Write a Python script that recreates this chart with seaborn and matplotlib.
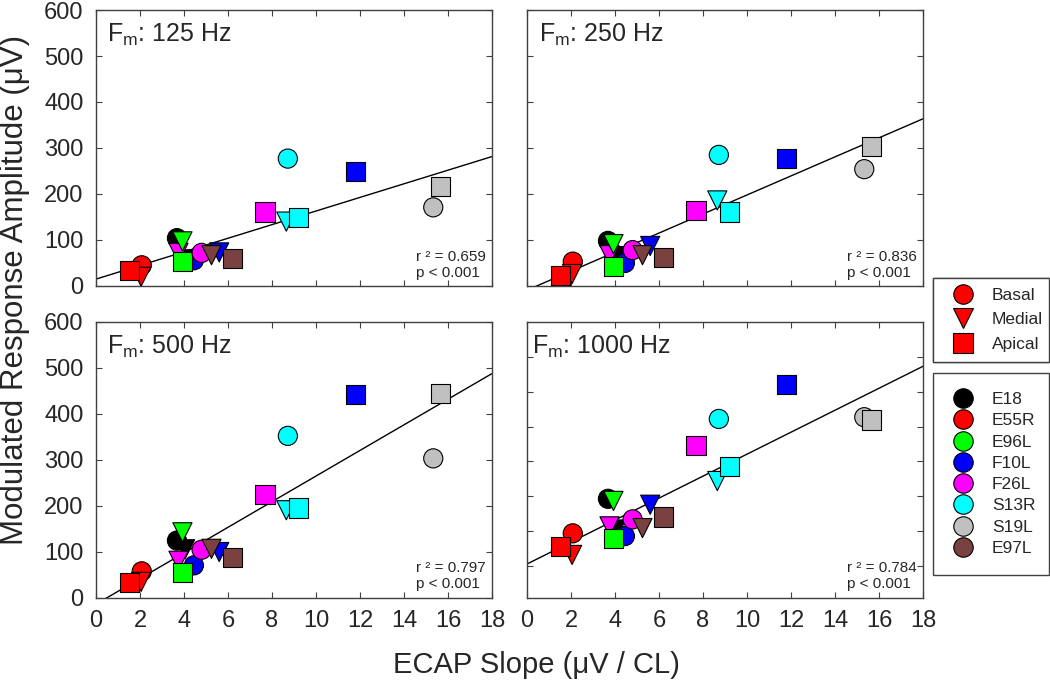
import numpy as np
import pandas as pd
import matplotlib.pyplot as plt
import seaborn as sns
from matplotlib.lines import Line2D

# --- data (row order = drawing order, sets overlaps) ---
subject = ['E18', 'E18', 'E55R', 'E55R', 'E55R', 'F10L', 'F26L', 'E96L', 'E96L', 'F26L',
           'F10L', 'E97L', 'E97L', 'F26L', 'S13R', 'S13R', 'S13R', 'F10L', 'S19L', 'S19L']
site = ['Basal', 'Medial', 'Basal', 'Medial', 'Apical', 'Basal', 'Medial', 'Medial', 'Apical', 'Basal',
        'Medial', 'Medial', 'Apical', 'Apical', 'Basal', 'Medial', 'Apical', 'Apical', 'Basal', 'Apical']
ecap_slope = [3.68, 4.05, 2.08, 2.05, 1.53, 4.45, 3.75, 3.93, 3.92, 4.8,
              5.6, 5.25, 6.2, 7.68, 8.72, 8.65, 9.2, 11.8, 15.33, 15.65]

amp_125 = [104, 58, 45, 20, 33, 56, 72, 97, 54, 72, 73, 67, 59, 161, 277, 140, 149, 249, 171, 217]
amp_250 = [98, 65, 53, 26, 22, 50, 67, 91, 42, 78, 87, 67, 62, 165, 285, 186, 161, 278, 254, 303]
amp_500 = [124, 105, 57, 34, 33, 70, 80, 142, 55, 104, 99, 106, 88, 224, 352, 190, 195, 442, 303, 444]
amp_1000 = [293, 205, 194, 132, 157, 186, 214, 287, 178, 234, 276, 209, 241, 446, 522, 344, 386, 622, 527, 519]

fm_labels = ['125', '250', '500', '1000']
fit_slope = [14.8, 20.7, 27.9, 31.5]
fit_icpt = [15.0, -9.1, -14.5, 106.0]
r2_text = ['0.659', '0.836', '0.797', '0.784']

subjects = ['E18', 'E55R', 'E96L', 'F10L', 'F26L', 'S13R', 'S19L', 'E97L']
sites = ['Basal', 'Medial', 'Apical']

# --- styling ---
subj_colors = {'E18': '#000000', 'E55R': '#FF0000', 'E96L': '#00FF00', 'F10L': '#0000FF',
               'F26L': '#FF00FF', 'S13R': '#00FFFF', 'S19L': '#C0C0C0', 'E97L': '#7B4040'}
site_markers = {'Basal': 'o', 'Medial': 'v', 'Apical': 's'}
frame_col = '#404040'

sns.set_style('ticks')
plt.rcParams['font.family'] = ['Liberation Sans', 'DejaVu Sans']
plt.rcParams['mathtext.default'] = 'regular'

df = pd.DataFrame({'subject': subject, 'site': site, 'slope': ecap_slope})
amps = [amp_125, amp_250, amp_500, amp_1000]

fig = plt.figure(figsize=(10.5, 6.89), dpi=100)
W, H = 1050, 689
boxes = [(96, 10, 396, 276), (527, 10, 396, 276), (96, 322, 396, 275.5), (527, 322, 396, 275.5)]
title_x = [0.027, 0.031, 0.027, 0.013]

for i, (x0, y0, w, h) in enumerate(boxes):
    ax = fig.add_axes([x0 / W, 1 - (y0 + h) / H, w / W, h / H])
    d = df.copy()
    d['amp'] = amps[i]
    sns.scatterplot(data=d, x='slope', y='amp', hue='subject', style='site',
                    palette=subj_colors, markers=site_markers, s=190,
                    edgecolor='black', linewidth=0.8, legend=False, ax=ax, zorder=3)
    xs = np.array([0, 18])
    ax.plot(xs, fit_icpt[i] + fit_slope[i] * xs, color='black', lw=1.0, zorder=2)

    ax.set_xlim(0, 18)
    ax.set_xticks(range(0, 19, 2))
    if i == 3:
        ax.set_ylim(10, 800)
        ax.set_yticks(range(100, 701, 100))
    else:
        ax.set_ylim(0, 600)
        ax.set_yticks(range(0, 601, 100))
    ax.set_xlabel('')
    ax.set_ylabel('')
    ax.tick_params(direction='in', top=True, right=True, length=4, width=0.8,
                   color=frame_col, labelsize=17, pad=9,
                   labelbottom=(i >= 2), labelleft=(i % 2 == 0))
    for sp in ax.spines.values():
        sp.set_visible(True)
        sp.set_color(frame_col)
        sp.set_linewidth(1.0)

    ax.text(title_x[i], 0.885, '$F_m$: ' + fm_labels[i] + ' Hz', transform=ax.transAxes,
            fontsize=18, ha='left', va='baseline')
    ax.text(0.984, 0.022, 'r ² = ' + r2_text[i] + '\np < 0.001', transform=ax.transAxes,
            fontsize=11, ha='right', va='bottom', multialignment='left')

fig.text(15 / W, 1 - 290 / H, 'Modulated Response Amplitude (μV)', rotation=90,
         ha='center', va='center', fontsize=22.5)
fig.text(536 / W, 1 - 665 / H, 'ECAP Slope (μV / CL)', ha='center', va='center', fontsize=21)

# legends
site_handles = [Line2D([], [], ls='none', marker=site_markers[s], ms=14, mfc='#FF0000',
                       mec='black', mew=0.8) for s in sites]
leg1 = fig.legend(site_handles, sites, loc='upper left', mode='expand',
                  bbox_to_anchor=(933 / W, 1 - 278 / H, 116 / W, 0), borderaxespad=0,
                  fontsize=12.5, borderpad=0.57, handlelength=2.3, handletextpad=0.52,
                  labelspacing=0.53, fancybox=False, framealpha=1)
leg1.get_frame().set_edgecolor(frame_col)
leg1.get_frame().set_linewidth(1.0)

subj_handles = [Line2D([], [], ls='none', marker='o', ms=14, mfc=subj_colors[s],
                       mec='black', mew=0.8) for s in subjects]
leg2 = fig.legend(subj_handles, subjects, loc='upper left', mode='expand',
                  bbox_to_anchor=(933 / W, 1 - 373 / H, 116 / W, 0), borderaxespad=0,
                  fontsize=12.5, borderpad=1.1, handlelength=1.26, handletextpad=1.03,
                  labelspacing=0.35, fancybox=False, framealpha=1)
leg2.get_frame().set_edgecolor(frame_col)
leg2.get_frame().set_linewidth(1.0)
fig.add_artist(leg1)

fig.savefig('out.png', dpi=100)
